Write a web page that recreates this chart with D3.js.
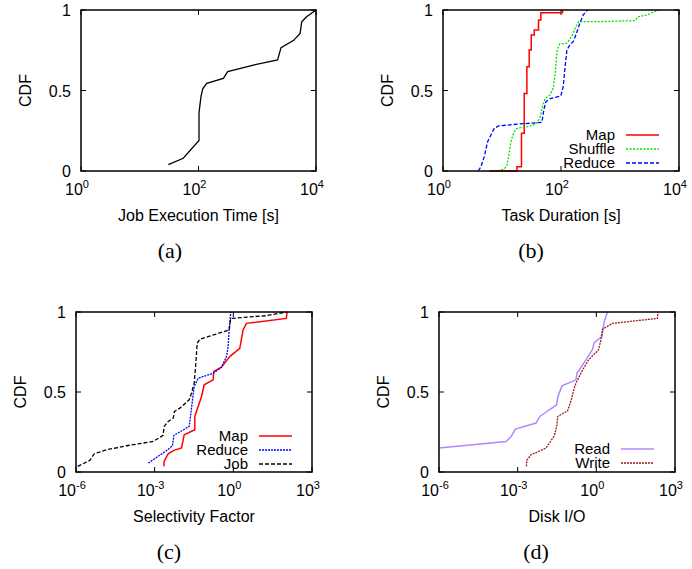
<!DOCTYPE html>
<html>
<head>
<meta charset="utf-8">
<script src="https://cdn.jsdelivr.net/npm/d3@7"></script>
<style>
  body { margin: 0; background: #fff; }
  text { font-family: "Liberation Sans", Arial, sans-serif; }
</style>
</head>
<body>
<div id="chart"></div>
<script>
// ---- data: [value, CDF] ----
// (a) job execution time [s]
var jobTime = [[30.6,0.04],[55,0.079],[102,0.19],[102,0.36],[105,0.40],[110,0.46],[118,0.51],[138,0.545],[265,0.575],[314,0.617],[860,0.658],[2220,0.69],[2540,0.766],[4110,0.81],[5370,0.855],[5710,0.927],[6920,0.958],[10000,1.0]];

// (b) task duration [s]
var taskMap = [[6.1,0],[17.9,0.027],[21.4,0.234],[23.8,0.482],[26.4,0.648],[28.9,0.752],[31.3,0.845],[35.2,0.876],[41.6,0.938],[45.6,0.983],[106,1.0]];
var taskShuffle = [[8.5,0.002],[10.5,0.010],[12.0,0.027],[12.9,0.089],[14.0,0.172],[15.3,0.224],[16.8,0.255],[18.6,0.267],[27.1,0.275],[37.5,0.292],[43.8,0.327],[48.6,0.400],[54.0,0.451],[64.7,0.472],[73.7,0.513],[79.7,0.607],[86.1,0.752],[95.5,0.789],[124,0.793],[141,0.818],[157,0.845],[178,0.896],[198,0.928],[442,0.928],[1800,0.934],[2050,0.959],[2910,0.969],[3780,0.990],[4710,1.0]];
var taskReduce = [[3.96,0],[4.40,0.027],[5.01,0.089],[5.70,0.182],[6.49,0.224],[7.39,0.265],[8.75,0.280],[19.6,0.292],[47.4,0.302],[51.2,0.379],[55.4,0.431],[67.3,0.451],[99.3,0.466],[109,0.524],[116,0.627],[126,0.752],[141,0.783],[161,0.803],[183,0.855],[208,0.917],[237,0.969],[281,1.0]];

// (c) selectivity factor
var selMap = [[2.24e-3,0.035],[2.31e-3,0.067],[3.28e-3,0.114],[5.4e-3,0.135],[0.0106,0.150],[0.0134,0.233],[0.034,0.264],[0.034,0.347],[0.0456,0.410],[0.0611,0.472],[0.0771,0.545],[0.170,0.576],[0.180,0.628],[0.352,0.655],[0.731,0.721],[1.76,0.773],[2.35,0.888],[3.16,0.929],[105,0.960],[112,1.0]];
var selReduce = [[5.7e-4,0.056],[2.8e-3,0.133],[4.8e-3,0.164],[5.4e-3,0.229],[0.0207,0.285],[0.0233,0.347],[0.0277,0.451],[0.0321,0.534],[0.0456,0.586],[0.170,0.617],[0.352,0.655],[0.547,0.721],[0.634,0.784],[0.69,0.888],[0.80,1.0]];
var selJob = [[1.16e-6,0.035],[3.4e-6,0.073],[5.0e-6,0.114],[1.47e-5,0.139],[8.5e-5,0.164],[8.8e-4,0.191],[2.1e-3,0.229],[2.3e-3,0.285],[3.3e-3,0.316],[5.1e-3,0.337],[5.7e-3,0.378],[9.1e-3,0.399],[0.0207,0.451],[0.0254,0.493],[0.0321,0.555],[0.0372,0.680],[0.0418,0.805],[0.0527,0.830],[0.109,0.846],[0.69,0.888],[0.80,0.960],[18.2,0.977],[105,1.0]];

// (d) disk I/O
var diskRead = [[1e-6,0.150],[3.64e-4,0.191],[5.6e-4,0.222],[8.2e-4,0.268],[5.0e-3,0.306],[7.1e-3,0.347],[0.0161,0.389],[0.0307,0.420],[0.0335,0.468],[0.049,0.538],[0.167,0.576],[0.182,0.617],[0.40,0.701],[0.72,0.767],[0.83,0.809],[1.63,0.846],[2.0,0.940],[2.67,1.0]];
var diskWrite = [[2.16e-3,0.035],[2.22e-3,0.073],[3.24e-3,0.108],[5.3e-3,0.123],[0.0121,0.150],[0.0251,0.227],[0.0316,0.295],[0.0335,0.347],[0.0805,0.383],[0.111,0.451],[0.144,0.524],[0.167,0.555],[0.30,0.638],[0.506,0.701],[1.21,0.763],[1.49,0.825],[1.72,0.892],[4.14,0.929],[213,0.960],[226,1.0]];

var yTicks = [0, 0.5, 1];
var yTickLabels = ["0", "0.5", "1"];

var svg = d3.select("#chart").append("svg")
    .attr("width", 692)
    .attr("height", 569);

// one gnuplot-style panel
function drawPanel(p) {
  var x = d3.scaleLog().domain(p.xDomain).range([p.left, p.right]);
  var y = d3.scaleLinear().domain([0, 1]).range([p.bottom, p.top]);
  var g = svg.append("g");

  // ticks on all four sides, pointing in
  p.xTicks.forEach(function(t) {
    g.append("line").attr("x1", x(t)).attr("x2", x(t)).attr("y1", p.bottom).attr("y2", p.bottom - 5).attr("stroke", "#000");
    g.append("line").attr("x1", x(t)).attr("x2", x(t)).attr("y1", p.top).attr("y2", p.top + 5).attr("stroke", "#000");
    var lab = g.append("text")
      .attr("x", x(t) - 4).attr("y", p.bottom + 24)
      .attr("text-anchor", "middle")
      .style("font-size", "16px");
    lab.append("tspan").text("10");
    lab.append("tspan").attr("dy", -7).style("font-size", "11px").text(Math.round(Math.log10(t)));
  });
  yTicks.forEach(function(t, i) {
    g.append("line").attr("x1", p.left).attr("x2", p.left + 5).attr("y1", y(t)).attr("y2", y(t)).attr("stroke", "#000");
    g.append("line").attr("x1", p.right).attr("x2", p.right - 5).attr("y1", y(t)).attr("y2", y(t)).attr("stroke", "#000");
    g.append("text")
      .attr("x", p.left - 10).attr("y", y(t) + 6)
      .attr("text-anchor", "end")
      .style("font-size", "16px")
      .text(yTickLabels[i]);
  });

  // series
  p.series.forEach(function(s) {
    var line = d3.line()
      .x(function(d) { return x(d[0]); })
      .y(function(d) { return y(d[1]); })
      .curve(s.step ? d3.curveStepAfter : d3.curveLinear);
    g.append("path")
      .datum(s.data)
      .attr("d", line)
      .attr("fill", "none")
      .attr("stroke", s.color)
      .attr("stroke-width", s.width || 1.3)
      .attr("stroke-dasharray", s.dash || null);
  });

  // frame
  g.append("rect")
    .attr("x", p.left).attr("y", p.top)
    .attr("width", p.right - p.left).attr("height", p.bottom - p.top)
    .attr("fill", "none").attr("stroke", "#000").attr("stroke-width", 1.5);

  // legend
  if (p.legend) {
    p.series.forEach(function(s, i) {
      var ly = p.legend.y + i * 14;
      g.append("text")
        .attr("x", p.legend.x).attr("y", ly + 5)
        .attr("text-anchor", "end")
        .style("font-size", "15px")
        .text(s.name);
      g.append("line")
        .attr("x1", p.legend.x + 11).attr("x2", p.legend.x + 44)
        .attr("y1", ly).attr("y2", ly)
        .attr("stroke", s.color)
        .attr("stroke-width", s.width || 1.3)
        .attr("stroke-dasharray", s.dash || null);
    });
  }

  // labels
  g.append("text")
    .attr("transform", "translate(" + (p.left - 50) + "," + ((p.top + p.bottom) / 2) + ")rotate(-90)")
    .attr("text-anchor", "middle")
    .style("font-size", "16px")
    .text("CDF");
  g.append("text")
    .attr("x", (p.left + p.right) / 2).attr("y", p.bottom + 50)
    .attr("text-anchor", "middle")
    .style("font-size", "16px")
    .text(p.xLabel);
  g.append("text")
    .attr("x", p.captionX).attr("y", p.bottom + 87)
    .attr("text-anchor", "middle")
    .style("font-family", "'Liberation Serif', serif")
    .style("font-size", "22px")
    .text(p.caption);
}

drawPanel({
  left: 81, right: 316, top: 10, bottom: 171,
  xDomain: [1, 1e4], xTicks: [1, 1e2, 1e4],
  xLabel: "Job Execution Time [s]", caption: "(a)", captionX: 170,
  series: [{ name: "Job", data: jobTime, color: "#000" }]
});

drawPanel({
  left: 443, right: 679, top: 10, bottom: 171,
  xDomain: [1, 1e4], xTicks: [1, 1e2, 1e4],
  xLabel: "Task Duration [s]", caption: "(b)", captionX: 531,
  legend: { x: 615, y: 135 },
  series: [
    { name: "Map", data: taskMap, color: "#ff0000", step: true, width: 1.5 },
    { name: "Shuffle", data: taskShuffle, color: "#00e000", dash: "2,1.5" },
    { name: "Reduce", data: taskReduce, color: "#0000ff", dash: "4,2" }
  ]
});

drawPanel({
  left: 76, right: 312, top: 312, bottom: 472,
  xDomain: [1e-6, 1e3], xTicks: [1e-6, 1e-3, 1, 1e3],
  xLabel: "Selectivity Factor", caption: "(c)", captionX: 169,
  legend: { x: 248, y: 436 },
  series: [
    { name: "Map", data: selMap, color: "#ff0000", width: 1.5 },
    { name: "Reduce", data: selReduce, color: "#0000ff", dash: "2,1" },
    { name: "Job", data: selJob, color: "#000", dash: "4,2" }
  ]
});

drawPanel({
  left: 439, right: 675, top: 312, bottom: 472,
  xDomain: [1e-6, 1e3], xTicks: [1e-6, 1e-3, 1, 1e3],
  xLabel: "Disk I/O", caption: "(d)", captionX: 536,
  legend: { x: 610, y: 449 },
  series: [
    { name: "Read", data: diskRead, color: "#b386ff", width: 1.5 },
    { name: "Write", data: diskWrite, color: "#a01818", dash: "2,1" }
  ]
});
</script>
</body>
</html>
